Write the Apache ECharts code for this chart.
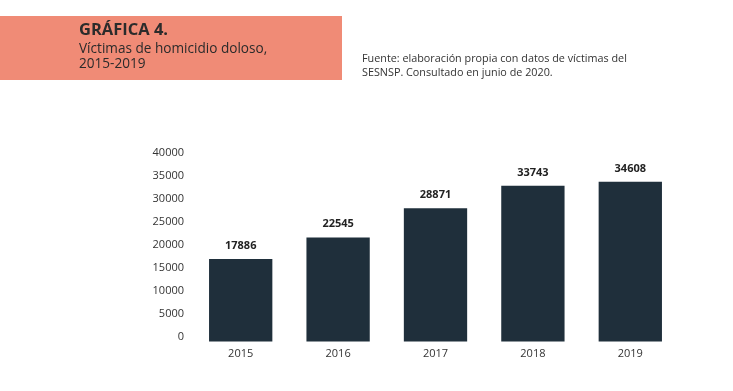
<!DOCTYPE html>
<html><head><meta charset="utf-8">
<script src="https://cdn.jsdelivr.net/npm/echarts@6/dist/echarts.min.js"></script>
<style>html,body{margin:0;padding:0;background:#fff}#c{width:733px;height:391px}</style>
</head><body><div id="c"></div>
<script>
const years = ['2015','2016','2017','2018','2019'];
const victims = [17886, 22545, 28871, 33743, 34608];
const yTicks = [0, 5000, 10000, 15000, 20000, 25000, 30000, 35000, 40000];
const titleText = 'GRÁFICA 4.';
const subtitleLines = ['Víctimas de homicidio doloso,', '2015-2019'];
const sourceLines = ['Fuente: elaboración propia con datos de víctimas del', 'SESNSP. Consultado en junio de 2020.'];

const font = '"Open Sans", "DejaVu Sans", sans-serif';
const chart = echarts.init(document.getElementById('c'), null, {renderer: 'canvas'});
chart.setOption({
  animation: false,
  backgroundColor: '#ffffff',
  textStyle: {fontFamily: font},
  grid: {left: 192, right: 54, top: 157, bottom: 49.5, containLabel: false},
  graphic: [
    {type: 'rect', shape: {x: 0, y: 16, width: 342, height: 64}, style: {fill: '#F08B76'}},
    {type: 'text', left: 79, top: 22, style: {text: titleText, fontFamily: font, fontWeight: 'bold', fontSize: 16.5, fill: '#2b2b2b'}},
    {type: 'text', left: 79, top: 41, style: {text: subtitleLines.join('\n'), fontFamily: font, fontSize: 13.6, lineHeight: 15.5, fill: '#2b2b2b'}},
    {type: 'text', left: 362, top: 52, style: {text: sourceLines.join('\n'), fontFamily: font, fontSize: 10.8, lineHeight: 14, fill: '#333333'}}
  ],
  xAxis: {
    type: 'category', data: years,
    axisLine: {show: false}, axisTick: {show: false},
    axisLabel: {color: '#333', fontSize: 11, margin: 7, fontFamily: font}
  },
  yAxis: {
    type: 'value', min: 0, max: 40000, interval: 5000,
    axisLine: {show: false}, axisTick: {show: false}, splitLine: {show: false},
    axisLabel: {color: '#333', fontSize: 11, margin: 8, fontFamily: font, verticalAlign: 'bottom', lineHeight: 9,
      formatter: v => yTicks.includes(v) ? String(v) : ''}
  },
  series: [{
    type: 'bar', data: victims, barWidth: '65%',
    itemStyle: {color: '#1F2F3B'},
    label: {show: true, position: 'top', distance: 8, color: '#222', fontWeight: 'bold', fontSize: 11, fontFamily: font}
  }]
});
</script></body></html>
